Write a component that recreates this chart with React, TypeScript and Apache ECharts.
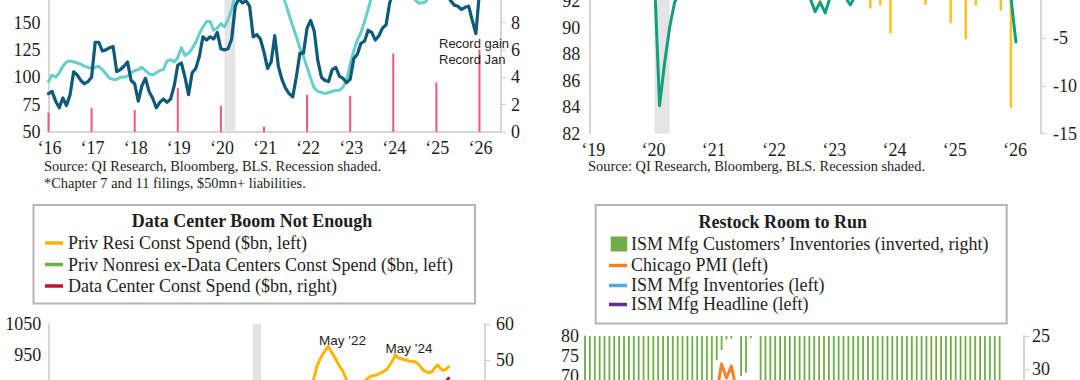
import React, { useEffect, useRef } from "react";
import * as echarts from "echarts";

const SERIF = '"Liberation Serif", "Times New Roman", serif';
const SANS = '"Liberation Sans", Arial, sans-serif';
const INK = "#1e1e1e";

// ---------- Panel 1 (top-left): monthly, Jan 2016 -> Jan 2026 ----------
const p1Start = 2016;
const p1DarkLine = [
  85, 87, 78, 72, 81, 74, 84, 105, 102, 97, 94, 96,
  100, 132, 132, 124, 125, 127, 128, 105, 107, 110, 114, 97,
  94, 78, 92, 99, 87, 81, 72, 77, 80, 77, 80, 92,
  111, 113, 100, 84, 104, 108, 119, 137, 134, 137, 135, 141,
  126, 125, 126, 135, 165, 172, 168, 170, 165, 137, 139, 135,
  123, 108, 114, 138, 110, 98, 90, 85, 82, 100, 122, 122,
  145, 152, 142, 115, 100, 97, 96, 107, 109, 101, 99, 95,
  98, 117, 121, 131, 133, 143, 141, 134, 138, 145, 148, 168,
  178, 184, 180, 186, 190, 185, 182, 188, 184, 179, 183, 176,
  180, 175, 174, 176, 170, 166, 165, 162, 164, 165, 152, 140,
  178,
];
const p1LightLine = [
  96, 102, 100, 104, 110, 114, 115, 114, 113, 112, 110, 109,
  108, 109, 110, 107, 103, 99, 98, 98, 100, 100, 101, 104,
  106, 107, 109, 106, 103, 102, 104, 106, 107, 115, 116, 114,
  118, 127, 120, 122, 126, 132, 140, 146, 151, 151, 143, 145,
  149, 146, 153, 162, 176, 182, 186, 188, 190, 186, 184, 182,
  178, 182, 185, 184, 180, 176, 168, 157, 147, 137, 127, 119,
  109, 99, 90, 87, 86, 85, 86, 87, 88, 88, 91, 97,
  112, 124, 134, 141, 151, 162, 174, 178, 182, 185, 183, 180,
  180, 183, 185, 182, 178, 175, 171, 168, 168, 169, 174, 178,
  180, 183, 186, 184, 182, 185, 188, 186, 183, 185, 187, 184,
  182,
];
const p1JanYears = [2016, 2017, 2018, 2019, 2020, 2021, 2022, 2023, 2024, 2025, 2026];
const p1JanBars = [1.41, 1.74, 1.59, 3.2, 1.9, 0.38, 2.71, 2.64, 5.73, 3.62, 6.02];
const p1Notes = ["Record gain", "Record Jan"];
const p1Source = [
  "Source: QI Research, Bloomberg, BLS. Recession shaded.",
  "*Chapter 7 and 11 filings, $50mn+ liabilities.",
];

// ---------- Panel 2 (top-right): monthly, Jan 2019 -> Feb 2026 ----------
const p2Start = 2019;
const p2GreenLine = [
  93.4, 93.5, 93.5, 93.6, 93.6, 93.7, 93.7, 93.8, 93.8, 93.9, 93.9, 94.0,
  93.9, 93.6, 84.1, 87.3, 90.0, 91.9, 92.6, 92.9, 93.1, 93.2, 93.3, 93.2,
  93.4, 93.3, 93.6, 93.7, 93.8, 93.9, 94.0, 94.0, 94.1, 94.0, 94.2, 94.3,
  94.0, 94.1, 93.6, 93.4, 93.2, 93.0, 92.8, 92.6, 92.2, 91.2, 91.9, 91.1,
  92.3, 93.0, 92.8, 92.3, 91.7, 92.4, 92.8, 93.0, 92.7, 92.6, 92.8, 92.9,
  93.0, 92.8, 93.0, 92.9, 92.7, 92.8, 92.6, 92.7, 92.8, 93.0, 92.9, 93.1,
  93.0, 92.9, 93.1, 92.8, 92.9, 92.7, 92.8, 92.9, 92.6, 92.7, 92.8, 92.6,
  92.3, 88.9,
];
const p2BarMonths: [number, number][] = [
  [2022, 11], [2023, 9], [2023, 11], [2024, 1], [2024, 8],
  [2025, 1], [2025, 4], [2025, 6], [2025, 11], [2026, 1],
];
const p2BarValues = [-1.3, -1.9, -1.6, -4.5, -1.5, -3.45, -5.1, -1.6, -2.1, -12.3];
const p2Source = "Source: QI Research, Bloomberg, BLS. Recession shaded.";

// ---------- Panel 3 (bottom-left) ----------
const p3Title = "Data Center Boom Not Enough";
const p3Legend = [
  "Priv Resi Const Spend ($bn, left)",
  "Priv Nonresi ex-Data Centers Const Spend ($bn, left)",
  "Data Center Const Spend ($bn, right)",
];
const p3ResiStart: [number, number] = [2021, 11];
const p3Resi = [
  845, 880,
  915, 935, 952, 966, 977, 962, 947, 931, 915, 901, 882, 860,
  852, 846, 845, 850, 858, 866, 874, 880, 883, 885, 889, 893,
  898, 904, 918, 932, 950, 941, 938, 935, 933, 930, 929, 928,
  922, 912, 900, 896, 893, 896, 908, 918, 908, 900, 904, 912,
];
const p3DcStart: [number, number] = [2025, 7];
const p3Dc = [40.5, 41.5, 42.5, 43.2, 44.0, 45.0];
const p3Peaks = ["May '22", "May '24"];

// ---------- Panel 4 (bottom-right): monthly, Jan 2019 -> Feb 2026 ----------
const p4Title = "Restock Room to Run";
const p4Legend = [
  "ISM Mfg Customers\u2019 Inventories (inverted, right)",
  "Chicago PMI (left)",
  "ISM Mfg Inventories (left)",
  "ISM Mfg Headline (left)",
];
const p4Start: [number, number] = [2019, 1];
const p4CustInv = [
  45, 47, 46, 47, 45, 44, 47, 46, 45, 44, 45, 44,
  41, 46, 43, 40, 44, 43, 42, 41, 38, 37, 37, 36,
  33.1, 32.5, 31.8, 28.6, 27.1, 25.5, 25.4, 24.5, 31.0, 30.5, 25.3, 24.8,
  33, 34, 35, 37, 36, 35, 38, 40, 41, 42, 41, 43,
  46, 47, 48, 50, 51, 47, 48, 50, 49, 47, 48, 46,
  46, 45, 47, 45, 44, 46, 45, 47, 44, 46, 44, 45,
  43, 45, 44, 46, 44, 45, 44, 43, 44, 45, 44, 43,
  44, 43,
];
const p4ChicagoStart: [number, number] = [2020, 1];
const p4Chicago = [
  43, 50, 48, 36, 32, 37, 51, 51, 62, 61, 58, 59,
  63, 59, 66, 66, 73.0, 69.5, 72.5, 66.8, 64.7, 68.4, 61.8, 63.1,
  65, 56, 62, 56, 60, 56, 52, 52, 45, 45, 37, 44,
];

const YEAR = (y: number, m: number) => y + (m - 1) / 12;
const yearLabel = (v: number) => (Number.isInteger(v) ? "\u2018" + String(v).slice(2) : "");

// The chart canvas is taller than the window and shifted up, so that the
// panels can run past the top and bottom edges as in the reference.
const OFF = 130;
const CANVAS_H = 760;

function buildOption(): any {
  const axisLine = { show: true, lineStyle: { color: "#d6d6d6", width: 2 } };
  const label = (extra: any = {}) => ({
    fontFamily: SERIF,
    fontSize: 18,
    color: INK,
    ...extra,
  });
  const tickOut = { show: true, length: 5, inside: false, lineStyle: { color: "#cfcfcf", width: 1 } };
  const recession = {
    silent: true,
    itemStyle: { color: "#e4e4e6" },
    data: [[{ xAxis: YEAR(2020, 2) }, { xAxis: YEAR(2020, 5) }]],
  };

  const grid = [
    { left: 48.5, top: OFF - 32, width: 452.5, height: 163.8 },
    { left: 589.3, top: OFF - 105, width: 451.7, height: 238.5 },
    { left: 48.3, top: OFF + 324, width: 436.7, height: 217 },
    { left: 585, top: OFF + 336, width: 439, height: 200 },
  ];

  const xBase = (gridIndex: number, min: number, max: number, showLabels: boolean, shift = 0) => ({
    type: "value",
    gridIndex,
    min,
    max,
    interval: 1,
    axisLine,
    axisTick: { show: false },
    splitLine: { show: false },
    axisLabel: {
      show: showLabels,
      margin: 7,
      showMaxLabel: false,
      formatter: yearLabel,
      padding: [0, 0, 0, shift],
      ...label(),
    },
  });

  const xAxis = [
    xBase(0, 2016, 2026.5, true, 2),
    xBase(1, 2019, 2026.5, true, 8),
    xBase(2, 2014, 2027, false),
    xBase(3, 2019, 2026.5, false),
  ];

  const lim = (lo: number, hi: number) => (v: number) => (v < lo || v > hi ? "" : String(v));

  const yAxis = [
    {
      type: "value", gridIndex: 0, position: "left", min: 50, max: 200, interval: 25,
      axisLine, axisTick: { show: false }, splitLine: { show: false },
      axisLabel: { margin: 8, formatter: lim(50, 150), ...label() },
    },
    {
      type: "value", gridIndex: 0, position: "right", min: 0, max: 12, interval: 2,
      axisLine, axisTick: tickOut, splitLine: { show: false },
      axisLabel: { margin: 10, formatter: lim(0, 8), ...label() },
    },
    {
      type: "value", gridIndex: 1, position: "left", min: 82, max: 100, interval: 2,
      axisLine, axisTick: { show: false }, splitLine: { show: false },
      axisLabel: { margin: 9, formatter: lim(82, 92), ...label() },
    },
    {
      type: "value", gridIndex: 1, position: "right", min: -15, max: 10, interval: 5,
      axisLine, axisTick: tickOut, splitLine: { show: false },
      axisLabel: { margin: 12, formatter: lim(-15, -5), ...label() },
    },
    {
      type: "value", gridIndex: 2, position: "left", min: 350, max: 1050, interval: 100,
      axisLine, axisTick: { show: false }, splitLine: { show: false },
      axisLabel: { margin: 7, formatter: lim(950, 1050), ...label() },
    },
    {
      type: "value", gridIndex: 2, position: "right", min: 0, max: 60, interval: 10,
      axisLine, axisTick: tickOut, splitLine: { show: false },
      axisLabel: { margin: 11, formatter: lim(50, 60), ...label() },
    },
    {
      type: "value", gridIndex: 3, position: "left", min: 30, max: 80, interval: 5,
      axisLine, axisTick: { show: false }, splitLine: { show: false },
      axisLabel: { margin: 6, formatter: lim(70, 80), ...label() },
    },
    {
      type: "value", gridIndex: 3, position: "right", min: 25, max: 55, interval: 5, inverse: true,
      axisLine, axisTick: tickOut, splitLine: { show: false },
      axisLabel: { margin: 8, formatter: lim(25, 30), ...label() },
    },
  ];

  const lineSeries = (xi: number, yi: number, data: any[], color: string, width = 3, z = 3) => ({
    type: "line",
    xAxisIndex: xi,
    yAxisIndex: yi,
    data,
    symbol: "none",
    smooth: false,
    lineStyle: { color, width, cap: "round", join: "round" },
    itemStyle: { color },
    z,
    silent: true,
  });

  const monthly = (startY: number, startM: number, arr: number[]) =>
    arr.map((v, i) => [YEAR(startY, startM) + i / 12, v]);

  const series: any[] = [
    // Panel 1
    {
      type: "bar",
      xAxisIndex: 0,
      yAxisIndex: 1,
      barWidth: 2,
      data: p1JanYears.map((y, i) => [y, p1JanBars[i]]),
      itemStyle: { color: "#f2557d" },
      markArea: recession,
      z: 1,
      silent: true,
    },
    lineSeries(0, 0, monthly(p1Start, 1, p1LightLine), "#66cfce", 3, 3),
    lineSeries(0, 0, monthly(p1Start, 1, p1DarkLine), "#0f5a7a", 3.2, 4),
    // Panel 2
    {
      type: "bar",
      xAxisIndex: 1,
      yAxisIndex: 3,
      barWidth: 2.5,
      data: p2BarMonths.map(([y, m], i) => [YEAR(y, m), p2BarValues[i]]),
      itemStyle: { color: "#ffc21a" },
      markArea: recession,
      z: 2,
      silent: true,
    },
    lineSeries(1, 2, monthly(p2Start, 1, p2GreenLine), "#11a07b", 3, 4),
    // Panel 3
    {
      ...lineSeries(2, 4, monthly(p3ResiStart[0], p3ResiStart[1], p3Resi), "#ffb400", 3, 4),
      markArea: recession,
    },
    lineSeries(2, 5, monthly(p3DcStart[0], p3DcStart[1], p3Dc), "#c0142b", 3, 5),
    // Panel 4
    {
      type: "bar",
      xAxisIndex: 3,
      yAxisIndex: 7,
      barWidth: 1.8,
      data: monthly(p4Start[0], p4Start[1], p4CustInv),
      itemStyle: { color: "#70ad47" },
      z: 2,
      silent: true,
    },
    lineSeries(3, 6, monthly(p4ChicagoStart[0], p4ChicagoStart[1], p4Chicago), "#f5822a", 3, 4),
  ];

  const txt = (text: string, x: number, y: number, opts: any = {}) => ({
    type: "text",
    x,
    y: y + OFF,
    silent: true,
    z: 100,
    style: {
      text,
      fill: INK,
      fontFamily: SERIF,
      fontSize: 18,
      align: "left",
      verticalAlign: "middle",
      ...opts,
    },
  });
  const legLine = (x: number, y: number, color: string) => ({
    type: "line",
    silent: true,
    z: 100,
    shape: { x1: x, y1: y + OFF, x2: x + 18, y2: y + OFF },
    style: { stroke: color, lineWidth: 3.5 },
  });
  const box = (x: number, y: number, w: number, h: number) => ({
    type: "rect",
    silent: true,
    z: 90,
    shape: { x, y: y + OFF, width: w, height: h },
    style: { fill: "#fff", stroke: "#b5b5b5", lineWidth: 2 },
  });

  const graphic: any[] = [
    txt(p1Source[0], 44, 166, { fontSize: 14.4 }),
    txt(p1Source[1], 44, 183, { fontSize: 14.4 }),
    txt(p1Notes[0], 439, 43, { fontFamily: SANS, fontSize: 13 }),
    txt(p1Notes[1], 439, 59, { fontFamily: SANS, fontSize: 13 }),
    txt(p2Source, 588, 166, { fontSize: 14.4 }),
    // Panel 3 legend
    box(33.5, 205, 441.5, 98.5),
    txt(p3Title, 252, 221, { align: "center", fontWeight: "bold" }),
    legLine(45, 243, "#ffb400"),
    legLine(45, 264.5, "#70ad47"),
    legLine(45, 286, "#c0142b"),
    txt(p3Legend[0], 68, 243),
    txt(p3Legend[1], 68, 264.5),
    txt(p3Legend[2], 68, 286),
    // Panel 4 legend
    box(595.7, 205, 411, 118.5),
    txt(p4Title, 782.7, 222, { align: "center", fontWeight: "bold" }),
    {
      type: "rect", silent: true, z: 100,
      shape: { x: 610.7, y: 236.5 + OFF, width: 16.5, height: 15 },
      style: { fill: "#70ad47" },
    },
    legLine(609, 265.5, "#f5822a"),
    legLine(609, 285.5, "#5aa7e0"),
    legLine(609, 304.5, "#6b2c8c"),
    txt(p4Legend[0], 631, 244),
    txt(p4Legend[1], 631, 265),
    txt(p4Legend[2], 631, 285),
    txt(p4Legend[3], 631, 304),
    // Panel 3 peak labels
    txt(p3Peaks[0], 342.5, 340, { fontFamily: SANS, fontSize: 13.5, align: "center" }),
    txt(p3Peaks[1], 409, 348, { fontFamily: SANS, fontSize: 13.5, align: "center" }),
  ];

  return {
    animation: false,
    backgroundColor: "#ffffff",
    grid,
    xAxis,
    yAxis,
    series,
    graphic,
  };
}

export default function App() {
  const ref = useRef<HTMLDivElement>(null);
  useEffect(() => {
    document.body.style.margin = "0";
    const chart = echarts.init(ref.current as HTMLDivElement, null, { renderer: "svg" });
    chart.setOption(buildOption());
    return () => chart.dispose();
  }, []);
  return (
    <div style={{ width: 1080, height: 380, overflow: "hidden", position: "relative", background: "#fff" }}>
      <div
        ref={ref}
        style={{ position: "absolute", left: 0, top: -OFF, width: 1080, height: CANVAS_H }}
      />
    </div>
  );
}
